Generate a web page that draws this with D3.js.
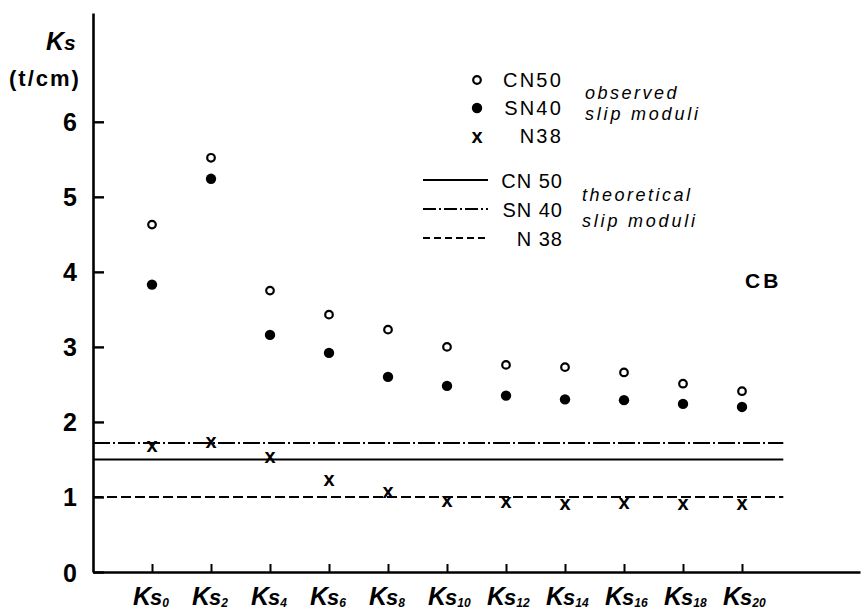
<!DOCTYPE html>
<html>
<head>
<meta charset="utf-8">
<script src="https://cdn.jsdelivr.net/npm/d3@7"></script>
<style>
  html, body { margin: 0; padding: 0; background: #fff; }
  svg { display: block; }
  text { font-family: "Liberation Sans", Arial, sans-serif; fill: #000; }
</style>
</head>
<body>
<svg id="chart" width="861" height="611"></svg>
<script>
// ---- data ----
const categories = ["0", "2", "4", "6", "8", "10", "12", "14", "16", "18", "20"];
const cn50Observed = [4.63, 5.52, 3.75, 3.43, 3.23, 3.00, 2.76, 2.73, 2.66, 2.51, 2.41];
const sn40Observed = [3.83, 5.24, 3.16, 2.92, 2.60, 2.48, 2.35, 2.30, 2.29, 2.24, 2.20];
const n38Observed  = [1.69, 1.74, 1.54, 1.23, 1.07, 0.95, 0.94, 0.92, 0.93, 0.92, 0.92];
const theoretical = [
  { name: "CN 50", value: 1.50, style: "solid" },
  { name: "SN 40", value: 1.72, style: "dashdot" },
  { name: "N 38",  value: 1.00, style: "dashed" }
];
const yTicks = [0, 1, 2, 3, 4, 5, 6];

// ---- layout ----
const svg = d3.select("#chart");
const x = d3.scaleLinear().domain([-1, 12]).range([93, 860]);
const y = d3.scaleLinear().domain([0, 7.45]).range([572, 13]);
const dashes = { solid: null, dashdot: "17,3,2,3", dashed: "10,4" };

// axes
const yAxis = d3.axisLeft(y).tickValues(yTicks).tickSize(-11).tickSizeOuter(0).tickPadding(16);
const gy = svg.append("g").attr("transform", `translate(${x(-1)},0)`).call(yAxis);
gy.select(".domain").attr("stroke-width", 2.6);
gy.selectAll(".tick line").attr("stroke-width", 2.4);
gy.selectAll(".tick text")
  .attr("font-family", "Liberation Sans, Arial, sans-serif")
  .attr("font-size", 25).attr("font-weight", "bold").attr("dy", "0.36em");

const xAxis = d3.axisBottom(x).tickValues(d3.range(categories.length)).tickSize(-8).tickSizeOuter(0).tickFormat("");
const gx = svg.append("g").attr("transform", `translate(0,${y(0)})`).call(xAxis);
gx.select(".domain").attr("stroke-width", 2.6);
gx.selectAll(".tick line").attr("stroke-width", 2);

// x labels  K s_n
const xl = svg.append("g").selectAll("text").data(categories).join("text")
  .attr("x", (d, i) => x(i) - 19).attr("y", 605)
  .attr("font-style", "italic").attr("font-weight", "bold");
xl.append("tspan").attr("font-size", 25).text("K");
xl.append("tspan").attr("font-size", 22).attr("dx", -1).text("s");
xl.append("tspan").attr("font-size", 12).attr("dy", 2).text(d => d);

// y title
const yt = svg.append("text").attr("x", 46).attr("y", 50)
  .attr("font-style", "italic").attr("font-weight", "bold");
yt.append("tspan").attr("font-size", 25).text("K");
yt.append("tspan").attr("font-size", 21).text("s");
svg.append("text").attr("x", 9).attr("y", 86).attr("font-size", 22).attr("font-weight", "bold")
  .attr("letter-spacing", 2).text("(t/cm)");

// theoretical lines
svg.append("g").selectAll("line").data(theoretical).join("line")
  .attr("x1", x(-1)).attr("x2", x(10.7))
  .attr("y1", d => y(d.value)).attr("y2", d => y(d.value))
  .attr("stroke", "#000").attr("stroke-width", 2)
  .attr("stroke-dasharray", d => dashes[d.style]);

// markers
function openCircles(g, data, xf, yf) {
  g.selectAll("circle.o").data(data).join("circle").attr("class", "o")
    .attr("cx", xf).attr("cy", yf).attr("r", 3.8)
    .attr("fill", "#fff").attr("stroke", "#000").attr("stroke-width", 2.2);
}
function filledCircles(g, data, xf, yf) {
  g.selectAll("circle.f").data(data).join("circle").attr("class", "f")
    .attr("cx", xf).attr("cy", yf).attr("r", 5.2).attr("fill", "#000");
}
function crosses(g, data, xf, yf) {
  g.selectAll("text.x").data(data).join("text").attr("class", "x")
    .attr("x", xf).attr("y", yf).attr("dy", "0.33em").attr("text-anchor", "middle")
    .attr("font-size", 20).attr("font-weight", "bold").text("x");
}
const pts = svg.append("g");
openCircles(pts, cn50Observed, (d, i) => x(i), d => y(d));
filledCircles(pts, sn40Observed, (d, i) => x(i), d => y(d));
crosses(pts, n38Observed, (d, i) => x(i), d => y(d));

// legend: observed
const lg = svg.append("g");
const obsRows = [{ name: "CN50", type: "open", ly: 80 }, { name: "SN40", type: "filled", ly: 108 }, { name: "N38", type: "cross", ly: 136 }];
openCircles(lg, obsRows.filter(r => r.type === "open"), 477, d => d.ly);
filledCircles(lg, obsRows.filter(r => r.type === "filled"), 477, d => d.ly);
crosses(lg, obsRows.filter(r => r.type === "cross"), 477, d => d.ly);
lg.selectAll("text.lt").data(obsRows).join("text").attr("class", "lt")
  .attr("x", 563).attr("y", d => d.ly + 7).attr("text-anchor", "end")
  .attr("font-size", 20).attr("letter-spacing", 2.2).text(d => d.name);
lg.append("text").attr("x", 585).attr("y", 99).attr("font-size", 18).attr("font-style", "italic")
  .attr("letter-spacing", 2.5).text("observed");
lg.append("text").attr("x", 585).attr("y", 120).attr("font-size", 18).attr("font-style", "italic")
  .attr("letter-spacing", 2.8).text("slip moduli");

// legend: theoretical
const thY = [180, 209, 238];
lg.selectAll("line.tl").data(theoretical).join("line").attr("class", "tl")
  .attr("x1", 423).attr("x2", 488).attr("y1", (d, i) => thY[i]).attr("y2", (d, i) => thY[i])
  .attr("stroke", "#000").attr("stroke-width", 2)
  .attr("stroke-dasharray", d => d.style === "dashdot" ? "13,3,2,3" : (d.style === "dashed" ? "7,4" : null));
lg.selectAll("text.tt").data(theoretical).join("text").attr("class", "tt")
  .attr("x", 563).attr("y", (d, i) => thY[i] + 8).attr("text-anchor", "end")
  .attr("font-size", 20).attr("letter-spacing", 1).text(d => d.name);
lg.append("text").attr("x", 582).attr("y", 201).attr("font-size", 18).attr("font-style", "italic")
  .attr("letter-spacing", 2.5).text("theoretical");
lg.append("text").attr("x", 582).attr("y", 227).attr("font-size", 18).attr("font-style", "italic")
  .attr("letter-spacing", 2.8).text("slip moduli");

// CB label
svg.append("text").attr("x", 745).attr("y", 288).attr("font-size", 21).attr("font-weight", "bold")
  .attr("letter-spacing", 3).text("CB");
</script>
</body>
</html>
